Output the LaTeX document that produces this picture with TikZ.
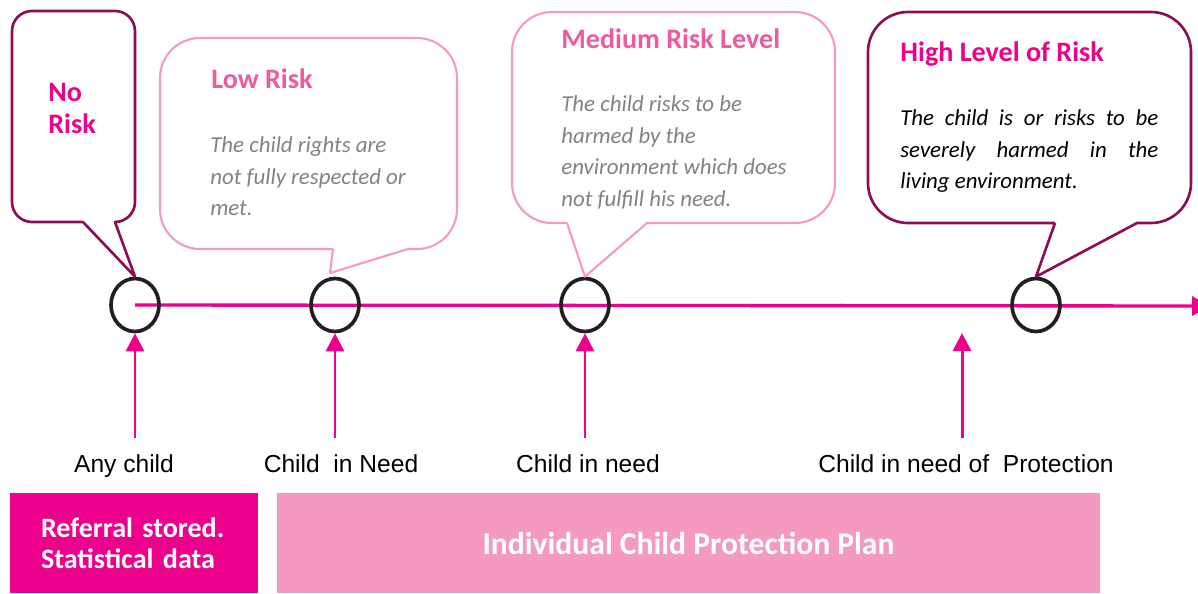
\documentclass[tikz,border=0pt]{standalone}
\usepackage{fontspec}
\usepackage{xcolor}
\usepackage{tikz}
\usetikzlibrary{arrows.meta,shapes.geometric,backgrounds}
\setmainfont{Carlito}
\newfontfamily\labelfont{Liberation Sans}
\definecolor{hotpink}{HTML}{EC008C}
\definecolor{plum}{HTML}{8C0D55}
\definecolor{softpink}{HTML}{F49AC1}
\definecolor{titlepink}{HTML}{EE5A9F}
\definecolor{textgray}{HTML}{808285}
\definecolor{ringblack}{HTML}{231F20}

\begin{document}
\begin{tikzpicture}[x=0.02cm,y=-0.02cm,
        ring/.style={draw=ringblack,line width=2.1pt,ellipse,minimum width=0.96cm,minimum height=1.06cm,inner sep=0},
        rise/.style={hotpink,line width=1.7pt,-{Triangle[width=0.36cm,length=0.36cm]}},
        darkbubble/.style={draw=plum,line width=1.5pt,line join=round},
        lightbubble/.style={draw=softpink,line width=1.2pt,line join=round},
        title/.style={font=\fontsize{16pt}{18.1pt}\selectfont\bfseries,inner sep=0},
        body/.style={font=\fontsize{13pt}{18.1pt}\selectfont\itshape,inner sep=0,align=left,anchor=north west},
        stage/.style={font=\labelfont\fontsize{14pt}{17pt}\selectfont,inner sep=0,anchor=base},
        band/.style={minimum height=2cm,inner sep=0,text=white,font=\fontsize{16pt}{17.6pt}\selectfont\bfseries}]
            \useasboundingbox (0,0) rectangle (1198,593);
            \node[ring] (c1) at (135,305) {};
            \node[ring] (c2) at (335,305) {};
            \node[ring] (c3) at (585,305) {};
            \node[ring] (c4) at (1036,305) {};
            \coordinate (tl) at (1210,306);
            \begin{scope}[on background layer]
                \draw[hotpink,line width=1.9pt,-{Triangle[width=0.38cm,length=0.36cm]}] (c1.center) to (tl);
            \end{scope}
            \coordinate (a1) at (135,438);
            \coordinate (a2) at (335,438);
            \coordinate (a3) at (585,438);
            \coordinate (a4) at (962,438);
            \coordinate (p4) at (962,333);
            \draw[rise] (a1) to (c1.south);
            \draw[rise] (a2) to (c2.south);
            \draw[rise] (a3) to (c3.south);
            \draw[rise] (a4) to (p4);
            \node[stage] (l1) at (124,472) {Any child};
            \node[stage] (l2) at (341,472) {Child\ \ in Need};
            \node[stage] (l3) at (588,472) {Child in need};
            \node[stage] (l4) at (966,472) {Child in need of\ \ Protection};
            \draw[darkbubble] (83,222) -- (c1.north) -- (115,222) [rounded corners=0.4cm] -- (135,222) -- (135,11) -- (12,11) -- (12,222) -- (83,222);
            \draw[lightbubble] (333,249) -- (330,273) -- (408,249) [rounded corners=0.8cm] -- (457,249) -- (457,38) -- (160,38) -- (160,249) -- (333,249);
            \draw[lightbubble] (567,223) -- (c3.north) -- (647,223) [rounded corners=0.8cm] -- (835,223) -- (835,12) -- (512,12) -- (512,223) -- (567,223);
            \draw[darkbubble] (1055,223) -- (c4.north) -- (1137,223) [rounded corners=0.8cm] -- (1191,223) -- (1191,12) -- (868,12) -- (868,223) -- (1055,223);
            \node[title,hotpink,anchor=north west,align=left] (t0) at (48,83) {No\\Risk};
            \node[title,titlepink,anchor=base west] (t1) at (211,88) {Low Risk};
            \node[body,textgray] (d1) at (210,136) {The child rights are\\not fully respected or\\met.};
            \node[title,titlepink,anchor=base west] (t2) at (561,48) {Medium Risk Level};
            \node[body,textgray] (d2) at (561,95) {The child risks to be\\harmed by the\\environment which does\\not fulfill his need.};
            \node[title,hotpink,anchor=base west] (t3) at (900,61) {High Level of Risk};
            \node[body,black,text width=5.16cm,align=justify] (d3) at (900,109) {The child is or risks to be\linebreak severely harmed in the\linebreak living environment.};
            \node[band,fill=hotpink,minimum width=4.96cm,text width=3.72cm,align=left] (store) at (134,543) {Referral stored.\\Statistical data};
            \node[band,fill=softpink,minimum width=16.46cm,font=\fontsize{18pt}{20pt}\selectfont\bfseries] (plan) at (688.5,543) {Individual Child Protection Plan};
        \end{tikzpicture}
\end{document}
